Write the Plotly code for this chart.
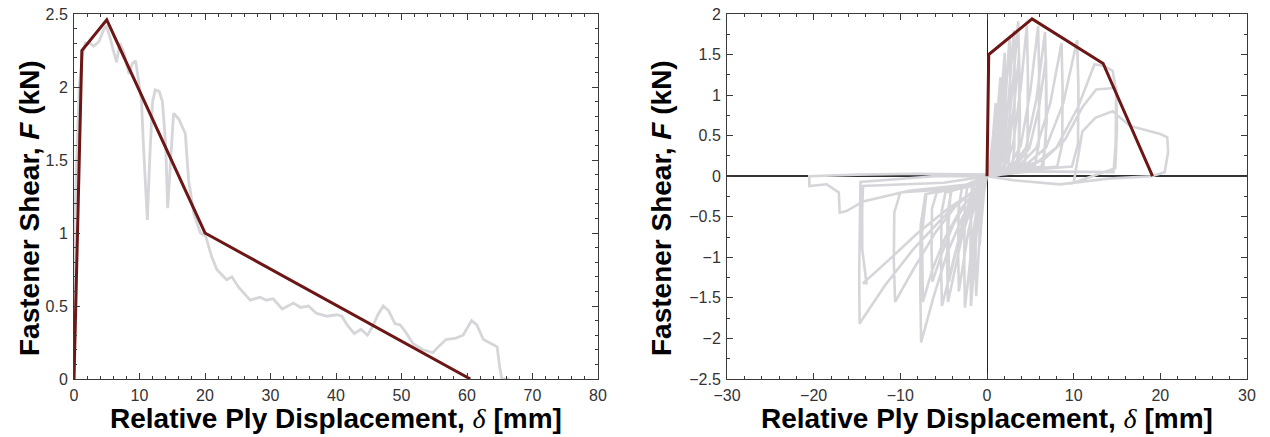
import plotly.graph_objects as go

# ---------------- Data ----------------
# Left panel: monotonic test (gray) and backbone fit (brown)
mono_x = [0, 0.05, 0.2, 0.5, 0.8, 1.3, 1.7, 2.4, 3.0, 3.8, 4.5, 4.9, 5.5, 6.0, 6.5, 7.0, 7.6, 8.4, 8.9,
          9.4, 9.7, 10.3, 10.6, 11.0, 11.2, 11.6, 12.0, 12.4, 13.0, 13.5, 14.0, 14.3, 14.7, 15.2,
          16.0, 16.6, 17.0, 17.5, 18.3, 19.3, 20.1, 21.0, 21.8, 23.3, 24.1, 25.1, 26.9, 28.4,
          29.4, 30.4, 31.8, 33.5, 34.6, 35.8, 37.0, 38.6, 40.1, 40.9, 41.7, 42.8, 43.8, 44.8,
          45.6, 46.4, 47.2, 48.0, 49.0, 49.8, 50.5, 51.8, 53.3, 54.8, 55.6, 56.8, 58.3, 59.4,
          60.7, 61.5, 62.5, 63.8, 64.6, 65.0, 65.3, 66.5]
mono_f = [0, 1.1, 1.2, 1.6, 2.0, 2.22, 2.3, 2.3, 2.28, 2.31, 2.39, 2.42, 2.34, 2.25, 2.17, 2.3, 2.24,
          2.09, 2.16, 2.18, 2.1, 1.91, 1.6, 1.2, 1.09, 1.55, 1.9, 1.98, 1.97, 1.9, 1.6, 1.17, 1.5,
          1.82, 1.78, 1.72, 1.68, 1.36, 1.13, 1.0, 0.98, 0.84, 0.75, 0.68, 0.70, 0.63, 0.54, 0.56,
          0.54, 0.55, 0.48, 0.52, 0.49, 0.5, 0.45, 0.43, 0.44, 0.43, 0.37, 0.31, 0.34, 0.30, 0.36,
          0.44, 0.5, 0.47, 0.38, 0.37, 0.33, 0.24, 0.2, 0.18, 0.22, 0.27, 0.28, 0.30, 0.40, 0.37,
          0.27, 0.24, 0.22, 0.08, 0.0, 0.0]
mono_fit_x = [0, 1.2, 5.0, 20.0, 60.5]
mono_fit_f = [0, 2.25, 2.46, 1.0, 0.0]

# Right panel: cyclic test (gray, one continuous record) and backbone fit (brown)
cyc_x = [0,
         0.1, 0.4, 0.7, 0.9, 1.0, 1.05, 1.0, 0.8, 0.3, 0.0,
         -0.1, -0.35, -0.6, -0.8, -0.85, -0.9, -0.85, -0.6, -0.2, 0.0,
         0.2, 0.6, 1.0, 1.3, 1.55, 1.62, 1.58, 1.4, 0.6, 0.0,
         -0.2, -0.5, -0.8, -1.05, -1.25, -1.32, -1.28, -1.1, -0.5, 0.0,
         0.3, 0.8, 1.3, 1.7, 2.05, 2.12, 2.1, 1.9, 0.8, 0.0,
         -0.3, -0.8, -1.2, -1.55, -1.85, -1.92, -1.88, -1.6, -0.7, 0.0,
         0.4, 1.0, 1.5, 1.8, 2.0, 2.08, 2.0, 0.9, 0.0,
         -0.4, -1.0, -1.4, -1.65, -1.8, -1.85, -1.75, -0.8, 0.0,
         0.4, 1.1, 1.7, 2.2, 2.6, 2.68, 2.65, 2.4, 1.0, 0.0,
         -0.4, -1.0, -1.6, -2.1, -2.55, -2.62, -2.58, -2.3, -1.0, 0.0,
         0.5, 1.3, 2.0, 2.6, 3.1, 3.2, 3.15, 2.9, 1.2, 0.0,
         -0.5, -1.3, -2.1, -2.7, -3.25, -3.32, -3.28, -2.9, -1.2, 0.0,
         0.6, 1.5, 2.3, 3.0, 3.6, 3.72, 3.68, 3.4, 1.5, 0.0,
         -0.6, -1.7, -2.8, -3.7, -4.5, -4.6, -4.55, -4.1, -1.6, 0.0,
         0.8, 1.8, 2.6, 3.2, 3.7, 3.8, 3.6, 1.6, 0.0,
         -0.8, -2.0, -3.0, -3.8, -4.4, -4.45, -4.2, -1.8, 0.0,
         0.8, 2.0, 3.0, 3.9, 4.6, 4.72, 4.68, 4.3, 1.8, 0.0,
         -0.7, -2.0, -3.2, -4.3, -5.2, -5.3, -5.25, -4.8, -2.0, 0.0,
         1.0, 2.6, 3.9, 5.0, 5.9, 6.02, 5.98, 5.5, 2.2, 0.0,
         -0.8, -2.4, -3.9, -5.2, -6.3, -6.4, -6.35, -5.8, -2.5, 0.0,
         1.2, 3.0, 4.5, 5.7, 6.7, 6.82, 6.78, 6.3, 2.6, 0.0,
         -0.9, -2.8, -4.6, -6.2, -7.6, -7.7, -7.65, -7.1, -3.0, 0.0,
         1.4, 3.3, 4.9, 6.0, 6.8, 6.9, 6.5, 2.8, 0.0,
         -1.0, -3.0, -4.8, -6.3, -7.4, -7.5, -7.0, -3.0, 0.0,
         1.5, 3.8, 5.7, 7.3, 8.6, 8.72, 8.68, 8.1, 3.0, 0.0,
         -1.1, -3.5, -6.0, -8.5, -10.6, -10.75, -10.7, -10.0, -3.5, 0.0,
         2.0, 4.6, 6.8, 8.8, 10.4, 10.55, 10.5, 9.8, 4.0, 0.0,
         -1.4, -4.5, -8.0, -11.5, -14.3, -13.9, -14.4, -14.4, -14.3, -5.0, 0.0,
         2.5, 5.5, 8.0, 10.5, 12.4, 13.5, 14.5, 14.9, 14.85, 14.6, 5.0, 0.0,
         -1.8, -5.0, -8.5, -11.8, -14.3, -14.7, -14.75, -14.7, -14.6, -6.0, 0.0,
         3.0, 6.5, 9.0, 11.0, 12.6, 14.9, 15.0, 14.8, 10.0,
         11.0, 12.5, 14.5, 16.5, 18.0, 20.0, 20.8, 20.9, 20.5, 19.0, 14.0, 8.4, 3.0, 0.0,
         -2.0, -9.0, -14.3, -16.2, -17.0, -17.1, -18.5, -20.5, -20.5, -15.0, -8.0, 0.0]
cyc_f = [0,
         0.05, 0.2, 0.5, 0.78, 0.9, 0.6, 0.2, 0.05, 0.02, 0.0,
         -0.05, -0.2, -0.5, -0.78, -0.85, -0.5, -0.15, -0.05, -0.02, 0.0,
         0.04, 0.15, 0.5, 0.9, 1.22, 0.8, 0.25, 0.06, 0.03, 0.0,
         -0.05, -0.25, -0.65, -1.1, -1.48, -1.0, -0.35, -0.1, -0.05, 0.0,
         0.04, 0.15, 0.5, 1.0, 1.52, 1.0, 0.3, 0.07, 0.04, 0.0,
         -0.06, -0.3, -0.7, -1.2, -1.6, -1.1, -0.4, -0.12, -0.06, 0.0,
         0.03, 0.12, 0.45, 0.9, 1.3, 0.6, 0.08, 0.03, 0.0,
         -0.06, -0.3, -0.75, -1.1, -1.35, -0.7, -0.12, -0.06, 0.0,
         0.04, 0.12, 0.4, 1.05, 1.72, 1.1, 0.35, 0.08, 0.04, 0.0,
         -0.07, -0.28, -0.7, -1.2, -1.62, -1.1, -0.4, -0.14, -0.07, 0.0,
         0.04, 0.12, 0.4, 1.1, 1.8, 1.2, 0.35, 0.09, 0.05, 0.0,
         -0.08, -0.3, -0.65, -1.05, -1.42, -1.0, -0.4, -0.15, -0.08, 0.0,
         0.04, 0.12, 0.4, 1.15, 1.91, 1.3, 0.4, 0.1, 0.05, 0.0,
         -0.1, -0.35, -0.7, -1.15, -1.55, -1.1, -0.45, -0.18, -0.1, 0.0,
         0.03, 0.1, 0.4, 0.95, 1.5, 0.7, 0.1, 0.04, 0.0,
         -0.1, -0.3, -0.65, -1.0, -1.3, -0.6, -0.18, -0.1, 0.0,
         0.05, 0.12, 0.38, 1.1, 1.86, 1.25, 0.4, 0.11, 0.05, 0.0,
         -0.12, -0.38, -0.75, -1.2, -1.6, -1.1, -0.45, -0.2, -0.12, 0.0,
         0.05, 0.12, 0.38, 1.05, 1.85, 1.25, 0.4, 0.12, 0.06, 0.0,
         -0.12, -0.32, -0.6, -0.95, -1.3, -0.9, -0.4, -0.2, -0.12, 0.0,
         0.06, 0.13, 0.35, 0.95, 1.78, 1.2, 0.4, 0.12, 0.06, 0.0,
         -0.14, -0.5, -0.95, -1.5, -2.05, -1.4, -0.6, -0.22, -0.14, 0.0,
         0.05, 0.12, 0.35, 0.85, 1.45, 0.7, 0.12, 0.05, 0.0,
         -0.14, -0.4, -0.75, -1.15, -1.55, -0.7, -0.22, -0.14, 0.0,
         0.06, 0.14, 0.35, 0.9, 1.64, 1.1, 0.4, 0.12, 0.07, 0.0,
         -0.15, -0.35, -0.7, -1.15, -1.55, -1.05, -0.45, -0.2, -0.15, 0.0,
         0.07, 0.15, 0.35, 0.9, 1.68, 1.1, 0.4, 0.12, 0.07, 0.0,
         -0.18, -0.4, -0.7, -1.05, -1.32, -1.32, -0.9, -0.4, -0.12, -0.08, 0.0,
         0.07, 0.15, 0.35, 0.85, 1.38, 1.36, 1.3, 1.05, 0.4, 0.05, 0.06, 0.0,
         -0.2, -0.5, -0.9, -1.35, -1.75, -1.82, -1.2, -0.5, -0.07, 0.0, 0.0,
         0.08, 0.2, 0.45, 0.85, 1.07, 1.09, 0.6, 0.1, -0.08,
         0.55, 0.72, 0.8, 0.62, 0.58, 0.52, 0.48, 0.3, 0.05, 0.0, -0.03, -0.1, -0.05, 0.0,
         -0.1, -0.18, -0.31, -0.43, -0.45, -0.2, -0.1, -0.12, 0.0, 0.02, 0.03, 0.02]
cyc_fit_x = [0, 0.2, 5.2, 13.4, 19.1]
cyc_fit_f = [0, 1.5, 1.94, 1.39, 0.0]

# Tick values
left_xticks = [0, 10, 20, 30, 40, 50, 60, 70, 80]
left_yticks = [0, 0.5, 1, 1.5, 2, 2.5]
right_xticks = [-30, -20, -10, 0, 10, 20, 30]
right_yticks = [-2.5, -2, -1.5, -1, -0.5, 0, 0.5, 1, 1.5, 2]

GRAY = "rgb(214,214,218)"
BROWN = "rgb(108,22,22)"
FRAME = "#3a3a3a"

fig = go.Figure()
fig.add_trace(go.Scatter(x=mono_x, y=mono_f, mode="lines", line=dict(color=GRAY, width=2.8),
                         xaxis="x", yaxis="y", showlegend=False))
fig.add_trace(go.Scatter(x=mono_fit_x, y=mono_fit_f, mode="lines", line=dict(color=BROWN, width=3),
                         xaxis="x", yaxis="y", showlegend=False))
fig.add_trace(go.Scatter(x=cyc_x, y=cyc_f, mode="lines", line=dict(color=GRAY, width=2.6),
                         xaxis="x2", yaxis="y2", showlegend=False))
fig.add_trace(go.Scatter(x=cyc_fit_x, y=cyc_fit_f, mode="lines", line=dict(color=BROWN, width=3),
                         xaxis="x2", yaxis="y2", showlegend=False))

tickfont = dict(family="Liberation Sans, Arial, sans-serif", size=16, color="#333")


def axis(rng, ticks, minor_dtick, domain, anchor, zero=False, zw=1, zc="#222"):
    return dict(range=rng, tickvals=ticks, domain=domain, anchor=anchor, automargin=False,
                showline=True, linecolor=FRAME, linewidth=1, mirror="allticks",
                ticks="inside", ticklen=6, tickwidth=1, tickcolor=FRAME,
                minor=dict(ticks="inside", ticklen=3, tickwidth=1, tickcolor=FRAME, dtick=minor_dtick,
                           showgrid=False),
                showgrid=False, zeroline=zero, zerolinecolor=zc, zerolinewidth=zw,
                tickfont=tickfont, ticklabelstandoff=2, ticklabeloverflow="allow",
                fixedrange=True)


H, W = 437, 1270
OFF = 8  # the page body adds an 8px offset; target screen pixel p -> figure pixel p - OFF
ydom = [(H - (379 - OFF)) / H, (H - (14 - OFF)) / H]
fig.update_layout(
    template="none",
    width=W, height=H,
    margin=dict(l=0, r=0, t=0, b=0, autoexpand=False),
    paper_bgcolor="white", plot_bgcolor="white",
    xaxis=axis([0, 80], left_xticks, 2, [(74 - OFF) / W, (598 - OFF) / W], "y"),
    yaxis=axis([0, 2.5], left_yticks, 0.1, ydom, "x"),
    xaxis2=axis([-30, 30], right_xticks, 2, [(727 - OFF) / W, (1247 - OFF) / W], "y2",
                zero=True, zw=1, zc="#222"),
    yaxis2=axis([-2.5, 2], right_yticks, 0.25, ydom, "x2", zero=True, zw=2, zc="#333"),
)

title_font = dict(family="Liberation Sans, Arial, sans-serif", size=28, color="black", weight="bold")
ytitle = "Fastener Shear, <i>F</i> (kN)"
xtitle = ("Relative Ply Displacement, "
          "<span style=\"font-family:Liberation Serif;font-weight:normal\"><i>δ</i></span> [mm]")
for xc in [29, 661]:
    fig.add_annotation(text=ytitle, x=(xc - OFF) / W, y=1 - (208 - OFF) / H, xref="paper", yref="paper",
                       xanchor="center", yanchor="middle", textangle=-90, showarrow=False,
                       font=title_font)
for xc in [336, 987]:
    fig.add_annotation(text=xtitle, x=(xc - OFF) / W, y=1 - (418 - OFF) / H, xref="paper", yref="paper",
                       xanchor="center", yanchor="middle", showarrow=False, font=title_font)

fig.write_html("out.html")
